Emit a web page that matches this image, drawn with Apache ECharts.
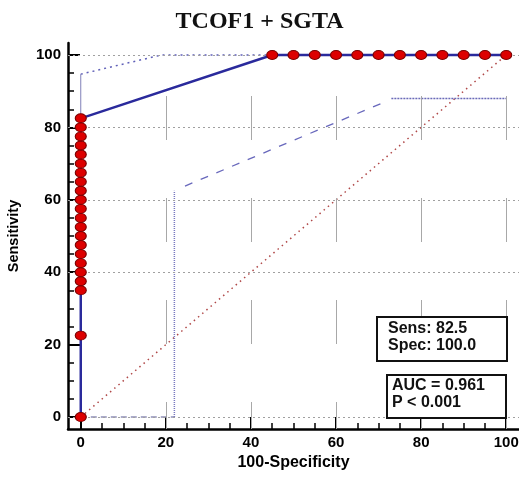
<!DOCTYPE html>
<html>
<head>
<meta charset="utf-8">
<script src="https://cdn.jsdelivr.net/npm/echarts@6/dist/echarts.min.js"></script>
<style>html,body{margin:0;padding:0;background:#fff}#c{width:519px;height:478px}</style>
</head>
<body>
<div id="c"></div>
<script>
// ---- data ----
var titleText = 'TCOF1 + SGTA';
var xName = '100-Specificity';
var yName = 'Sensitivity';
var majorTicks = [0, 20, 40, 60, 80, 100];
var minorTicks = [5, 10, 15, 25, 30, 35, 45, 50, 55, 65, 70, 75, 85, 90, 95];
// ROC points (100-Specificity, Sensitivity)
var rocX = [0, 0, 0, 0, 0, 0, 0, 0, 0, 0, 0, 0, 0, 0, 0, 0, 0, 0, 0, 0, 0, 0,
            45, 50, 55, 60, 65, 70, 75, 80, 85, 90, 95, 100];
var rocY = [0, 22.5, 35, 37.5, 40, 42.5, 45, 47.5, 50, 52.5, 55, 57.5, 60, 62.5, 65, 67.5, 70, 72.5, 75, 77.5, 80, 82.5,
            100, 100, 100, 100, 100, 100, 100, 100, 100, 100, 100, 100];
// confidence bounds
var ciUpper = [[0, 94.7], [19, 100], [45, 100]];
var ciPoint = [[0, 82.5], [0, 94.7]];
var ciLowerBase = [[0, 0], [22, 0]];
var ciLowerVert = [[22, 0], [22, 62.5]];
var ciLowerSlope = [[24.5, 63.8], [71, 86.8]];
var ciLowerFlat = [[73, 88], [100, 88]];
var diagonal = [[0, 0], [100, 100]];
var hGrid = [0, 40, 60, 80, 100];
var vGrid = [20, 40, 60, 80, 100];
var sensText = ['Sens: 82.5', 'Spec: 100.0'];
var aucText = ['AUC = 0.961', 'P < 0.001'];

var rocData = rocX.map(function (x, i) { return [x, rocY[i]]; });

var chart = echarts.init(document.getElementById('c'));
var lbl = { fontFamily: 'Liberation Sans', fontWeight: 'bold', fontSize: 15, color: '#000' };
var xMin = -3, xMax = 103, yMin = -3.3, yMax = 103.3;

function mainX() {
  return {
    type: 'value', min: xMin, max: xMax, position: 'bottom',
    axisLine: { show: true, onZero: false, lineStyle: { color: '#000', width: 2.5 } },
    axisTick: { show: true, inside: true, length: 12, customValues: majorTicks, lineStyle: { color: '#000', width: 2 } },
    axisLabel: Object.assign({ customValues: majorTicks, margin: 6 }, lbl),
    splitLine: { show: false },
    name: xName, nameLocation: 'middle', nameGap: 26,
    nameTextStyle: Object.assign({}, lbl, { fontSize: 16 })
  };
}
function mainY() {
  return {
    type: 'value', min: yMin, max: yMax, position: 'left',
    axisLine: { show: true, onZero: false, lineStyle: { color: '#000', width: 2.5 } },
    axisTick: { show: true, inside: true, length: 12, customValues: majorTicks, lineStyle: { color: '#000', width: 2 } },
    axisLabel: Object.assign({ customValues: majorTicks, margin: 7 }, lbl),
    splitLine: { show: false },
    name: yName, nameLocation: 'middle', nameGap: 47,
    nameTextStyle: Object.assign({}, lbl, { fontSize: 14.5 })
  };
}
function minorAxis(isX) {
  return {
    type: 'value', min: isX ? xMin : yMin, max: isX ? xMax : yMax,
    position: isX ? 'bottom' : 'left', offset: 0,
    axisLine: { show: false, onZero: false },
    axisTick: { show: true, inside: true, length: 6, customValues: minorTicks, lineStyle: { color: '#000', width: 1.5 } },
    axisLabel: { show: false },
    splitLine: { show: false }
  };
}

var option = {
  backgroundColor: '#fff',
  animation: false,
  title: {
    text: titleText, left: 'center', top: 5,
    textStyle: { fontFamily: 'Liberation Serif', fontWeight: 'bold', fontSize: 24, color: '#111' }
  },
  grid: { left: 68, right: 0, top: 43, bottom: 49, containLabel: false, outerBoundsMode: 'none' },
  xAxis: [mainX(), minorAxis(true)],
  yAxis: [mainY(), minorAxis(false)],
  series: [
    {
      type: 'line', data: [], silent: true,
      markLine: {
        silent: true, symbol: 'none', label: { show: false },
        lineStyle: { color: '#a0a0a0', width: 1, type: [2, 3] },
        data: hGrid.map(function (v) { return { yAxis: v }; })
      }
    },
    {
      type: 'line', data: [], silent: true,
      markLine: {
        silent: true, symbol: 'none', label: { show: false },
        lineStyle: { color: '#a8a8a8', width: 1, type: [44, 58], dashOffset: 17 },
        data: vGrid.map(function (v) { return { xAxis: v }; })
      }
    },
    { type: 'line', data: diagonal, symbol: 'none', silent: true,
      lineStyle: { color: '#b04848', width: 1.5, type: [1.5, 4] } },
    { type: 'line', data: ciUpper, symbol: 'none', silent: true,
      lineStyle: { color: '#6060b8', width: 1.5, type: [2, 4] } },
    { type: 'line', data: ciPoint, symbol: 'none', silent: true,
      lineStyle: { color: '#8080b8', width: 1 } },
    { type: 'line', data: ciLowerBase, symbol: 'none', silent: true,
      lineStyle: { color: '#9090b8', width: 1.5, type: [6, 4] } },
    { type: 'line', data: ciLowerVert, symbol: 'none', silent: true,
      lineStyle: { color: '#7878c0', width: 1.5, type: [1, 1] } },
    { type: 'line', data: ciLowerSlope, symbol: 'none', silent: true,
      lineStyle: { color: '#6868bc', width: 1.3, type: [8, 9] } },
    { type: 'line', data: ciLowerFlat, symbol: 'none', silent: true,
      lineStyle: { color: '#6a6ab8', width: 1.5, type: [2, 1] } },
    {
      type: 'line', data: rocData, silent: true,
      symbol: 'circle', symbolSize: [11, 9], showAllSymbol: true,
      lineStyle: { color: '#2a2a9c', width: 2.5 },
      itemStyle: { color: '#dd0000', borderColor: '#7a0000', borderWidth: 1 },
      z: 5
    }
  ],
  graphic: [
    { type: 'rect', left: 376, top: 316, z: 10,
      shape: { width: 130, height: 44 },
      style: { fill: '#fff', stroke: '#111', lineWidth: 2 } },
    { type: 'text', left: 388, top: 320, z: 11,
      style: { text: sensText.join('\n'), font: 'bold 16px "Liberation Sans"', fill: '#111', lineHeight: 17 } },
    { type: 'rect', left: 386, top: 374, z: 10,
      shape: { width: 119, height: 43 },
      style: { fill: '#fff', stroke: '#111', lineWidth: 2 } },
    { type: 'text', left: 392, top: 377, z: 11,
      style: { text: aucText.join('\n'), font: 'bold 16px "Liberation Sans"', fill: '#111', lineHeight: 17 } }
  ]
};
chart.setOption(option);
</script>
</body>
</html>
